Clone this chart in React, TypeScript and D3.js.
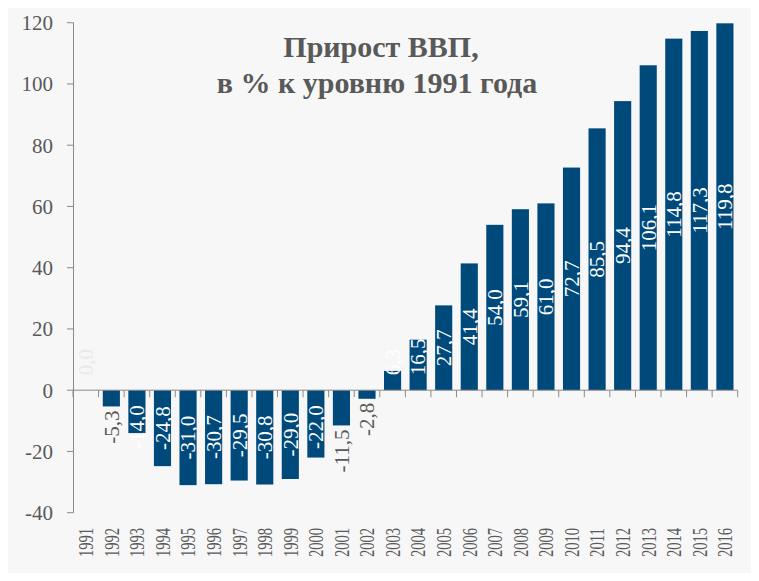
import { scaleBand, scaleLinear } from "d3";

const years = [
  "1991", "1992", "1993", "1994", "1995", "1996", "1997", "1998", "1999",
  "2000", "2001", "2002", "2003", "2004", "2005", "2006", "2007", "2008",
  "2009", "2010", "2011", "2012", "2013", "2014", "2015", "2016",
];
const growth = [
  0.0, -5.3, -14.0, -24.8, -31.0, -30.7, -29.5, -30.8, -29.0, -22.0, -11.5,
  -2.8, 6.3, 16.5, 27.7, 41.4, 54.0, 59.1, 61.0, 72.7, 85.5, 94.4, 106.1,
  114.8, 117.3, 119.8,
];
// labels Excel put outside the bar end (grey text)
const outsideLabels = ["1992", "2001", "2002"];
const yTicks = [-40, -20, 0, 20, 40, 60, 80, 100, 120];

const width = 759;
const height = 581;
const font = "'Liberation Serif', 'Times New Roman', serif";
const barColor = "#004a7b";
const textGrey = "#595959";
const axisGrey = "#8a8a8a";

const fmt = (v: number) => v.toFixed(1).replace(".", ",");

export default function App() {
  const x = scaleBand<string>()
    .domain(years)
    .range([73, 737.7])
    .paddingInner(0.33)
    .paddingOuter(0.165);
  const y = scaleLinear().domain([-40, 120]).range([512.7, 22.7]);
  const y0 = y(0);
  const step = x.step();
  const labelSize = 21;

  return (
    <div style={{ margin: "-8px", width, height }}>
      <svg width={width} height={height} style={{ display: "block", fontFamily: font }}>
        <rect width={width} height={height} fill="#fff" />
        <rect y={8} width={width} height={height - 8} fill="#f7f7f7" />

        <text x={381} y={57} textAnchor="middle" fontSize={30} fontWeight={700} fill={textGrey}>
          Прирост ВВП,
        </text>
        <text x={377} y={93} textAnchor="middle" fontSize={30} fontWeight={700} fill={textGrey}>
          в % к уровню 1991 года
        </text>

        {/* y axis */}
        <line x1={73.5} x2={73.5} y1={y(120)} y2={y(-40)} stroke={axisGrey} />
        {yTicks.map((t) => (
          <g key={t}>
            <line x1={67} x2={73.5} y1={y(t)} y2={y(t)} stroke={axisGrey} />
            <text x={53} y={y(t)} dy="0.35em" textAnchor="end" fontSize={21} fill={textGrey}>
              {t}
            </text>
          </g>
        ))}

        {/* bars */}
        {years.map((yr, i) => {
          const v = growth[i];
          const top = Math.min(y(v), y0);
          const h = Math.abs(y(v) - y0);
          return (
            <rect key={yr} x={x(yr)} y={top} width={x.bandwidth()} height={h} fill={barColor} />
          );
        })}

        {/* zero line + category ticks */}
        <line x1={73} x2={737.7} y1={y0} y2={y0} stroke={axisGrey} />
        {years.concat(["end"]).map((yr, i) => {
          const tx = 73 + i * step;
          return <line key={yr} x1={tx} x2={tx} y1={y0} y2={y0 + 7} stroke={axisGrey} />;
        })}

        {/* year labels */}
        {years.map((yr) => {
          const cx = (x(yr) ?? 0) + x.bandwidth() / 2;
          return (
            <text
              key={yr}
              transform={`translate(${cx}, 528) rotate(-90)`}
              dy="0.35em"
              textAnchor="end"
              fontSize={21}
              textLength={29}
              lengthAdjust="spacingAndGlyphs"
              fill={textGrey}
            >
              {yr}
            </text>
          );
        })}

        {/* value labels */}
        {years.map((yr, i) => {
          const v = growth[i];
          const label = fmt(v);
          const cx = (x(yr) ?? 0) + x.bandwidth() / 2;
          const len = [...label].reduce(
            (s, c) => s + (c === "," ? 0.25 : c === "-" ? 0.333 : 0.5),
            0,
          ) * labelSize;
          if (outsideLabels.includes(yr)) {
            return (
              <text
                key={yr}
                transform={`translate(${cx}, ${y(v) + 4}) rotate(-90)`}
                dy="0.35em"
                textAnchor="end"
                fontSize={labelSize}
                fill={textGrey}
              >
                {label}
              </text>
            );
          }
          let center = (y(v) + y0) / 2;
          if (v >= 0) center = Math.min(center, y0 - 15 - len / 2);
          else center = Math.max(center, y0 + 15 + len / 2);
          return (
            <text
              key={yr}
              transform={`translate(${cx}, ${center}) rotate(-90)`}
              dy="0.35em"
              textAnchor="middle"
              fontSize={labelSize}
              fill={v === 0 ? "#e9e9e9" : "#ffffff"}
            >
              {label}
            </text>
          );
        })}
      </svg>
    </div>
  );
}
